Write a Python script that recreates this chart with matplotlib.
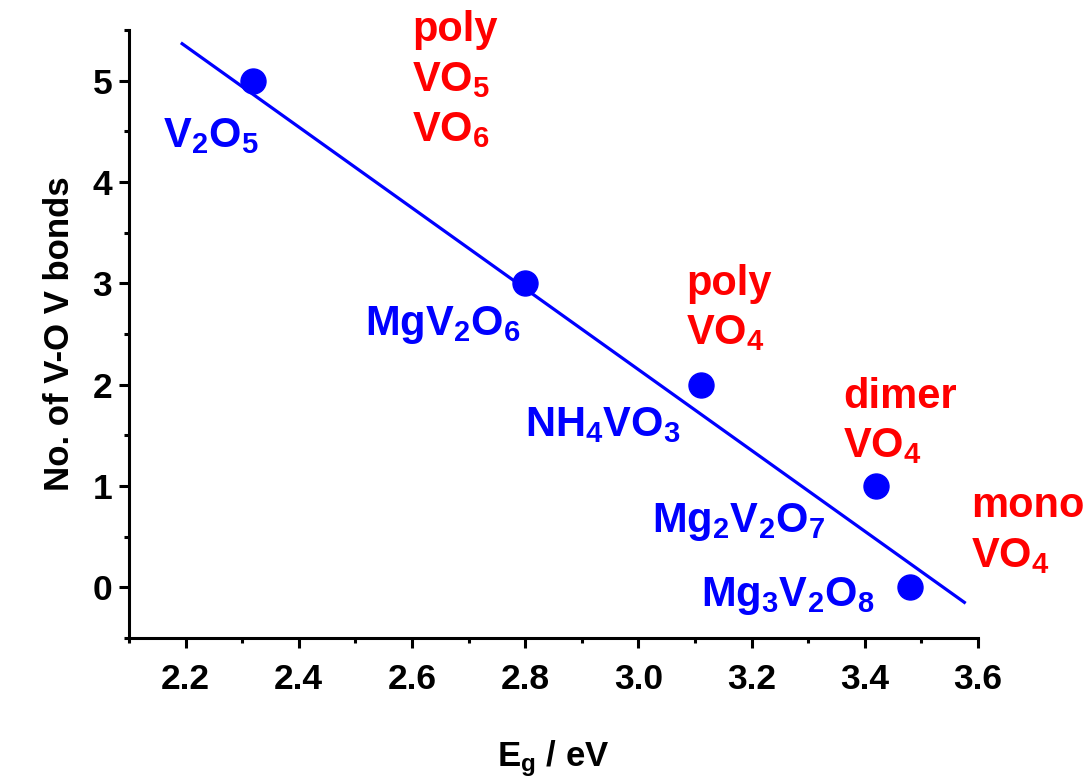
import numpy as np
import matplotlib
matplotlib.use("Agg")
import matplotlib.pyplot as plt
from matplotlib.ticker import MultipleLocator

plt.rcParams['font.family'] = ['Liberation Sans', 'DejaVu Sans']
plt.rcParams['font.weight'] = 'bold'
plt.rcParams['mathtext.fontset'] = 'custom'
plt.rcParams['mathtext.rm'] = 'Liberation Sans:bold'
plt.rcParams['mathtext.it'] = 'Liberation Sans:bold'
plt.rcParams['mathtext.bf'] = 'Liberation Sans:bold'

# band gap (eV) vs number of V-O-V bonds
eg = [2.32, 2.80, 3.11, 3.42, 3.48]
n_bonds = [5, 3, 2, 1, 0]
compounds = [r"V$_2$O$_5$", r"MgV$_2$O$_6$", r"NH$_4$VO$_3$",
             r"Mg$_2$V$_2$O$_7$", r"Mg$_3$V$_2$O$_8$"]

# straight line drawn through the points (end points)
fit_x = [2.194, 3.576]
fit_y = [5.365, -0.148]

# structure labels
structures = ["poly\nVO$_5$\nVO$_6$", "poly\nVO$_4$", "dimer\nVO$_4$", "mono\nVO$_4$"]

# label positions (data coords, left / last-line baseline)
comp_pos = [(2.16, 4.34), (2.517, 2.495), (2.799, 1.489), (3.025, 0.542), (3.111, -0.187)]
struct_pos = [(2.60, 4.408), (3.085, 2.396), (3.362, 1.282), (3.588, 0.197)]

fig = plt.figure(figsize=(10.9, 7.82), dpi=100)
ax = fig.add_axes([0.1183, 0.1841, 0.7789, 0.7775])

ax.plot(fit_x, fit_y, color='#0000ff', lw=2.3, zorder=2)
ax.plot(eg, n_bonds, 'o', color='#0000ff', ms=18, zorder=3)

for lab, (x, y) in zip(compounds, comp_pos):
    ax.text(x, y, lab, color='#0000ff', fontsize=30, fontweight='bold',
            ha='left', va='baseline')
for lab, (x, y) in zip(structures, struct_pos):
    ax.text(x, y, lab, color='#ff0000', fontsize=30, fontweight='bold',
            ha='left', va='baseline', linespacing=1.32)

ax.set_xlim(2.1, 3.6)
ax.set_ylim(-0.5, 5.5)
ax.xaxis.set_major_locator(MultipleLocator(0.2))
ax.xaxis.set_minor_locator(MultipleLocator(0.1))
ax.yaxis.set_major_locator(MultipleLocator(1))
ax.yaxis.set_minor_locator(MultipleLocator(0.5))
ax.xaxis.set_major_formatter(plt.FormatStrFormatter('%.1f'))

for s in ['top', 'right']:
    ax.spines[s].set_visible(False)
for s in ['left', 'bottom']:
    ax.spines[s].set_linewidth(2.2)

ax.tick_params(which='major', length=7, width=2.2, labelsize=25.5)
ax.tick_params(axis='x', which='major', pad=11)
ax.tick_params(axis='y', which='major', pad=5)
ax.tick_params(which='minor', length=3.5, width=2.2)

ax.set_xlabel(r"E$_g$ / eV", fontsize=25, fontweight='bold', labelpad=30)
ax.set_ylabel("No. of V-O V bonds", fontsize=25, fontweight='bold', labelpad=12)

fig.savefig("out.png", dpi=100)
